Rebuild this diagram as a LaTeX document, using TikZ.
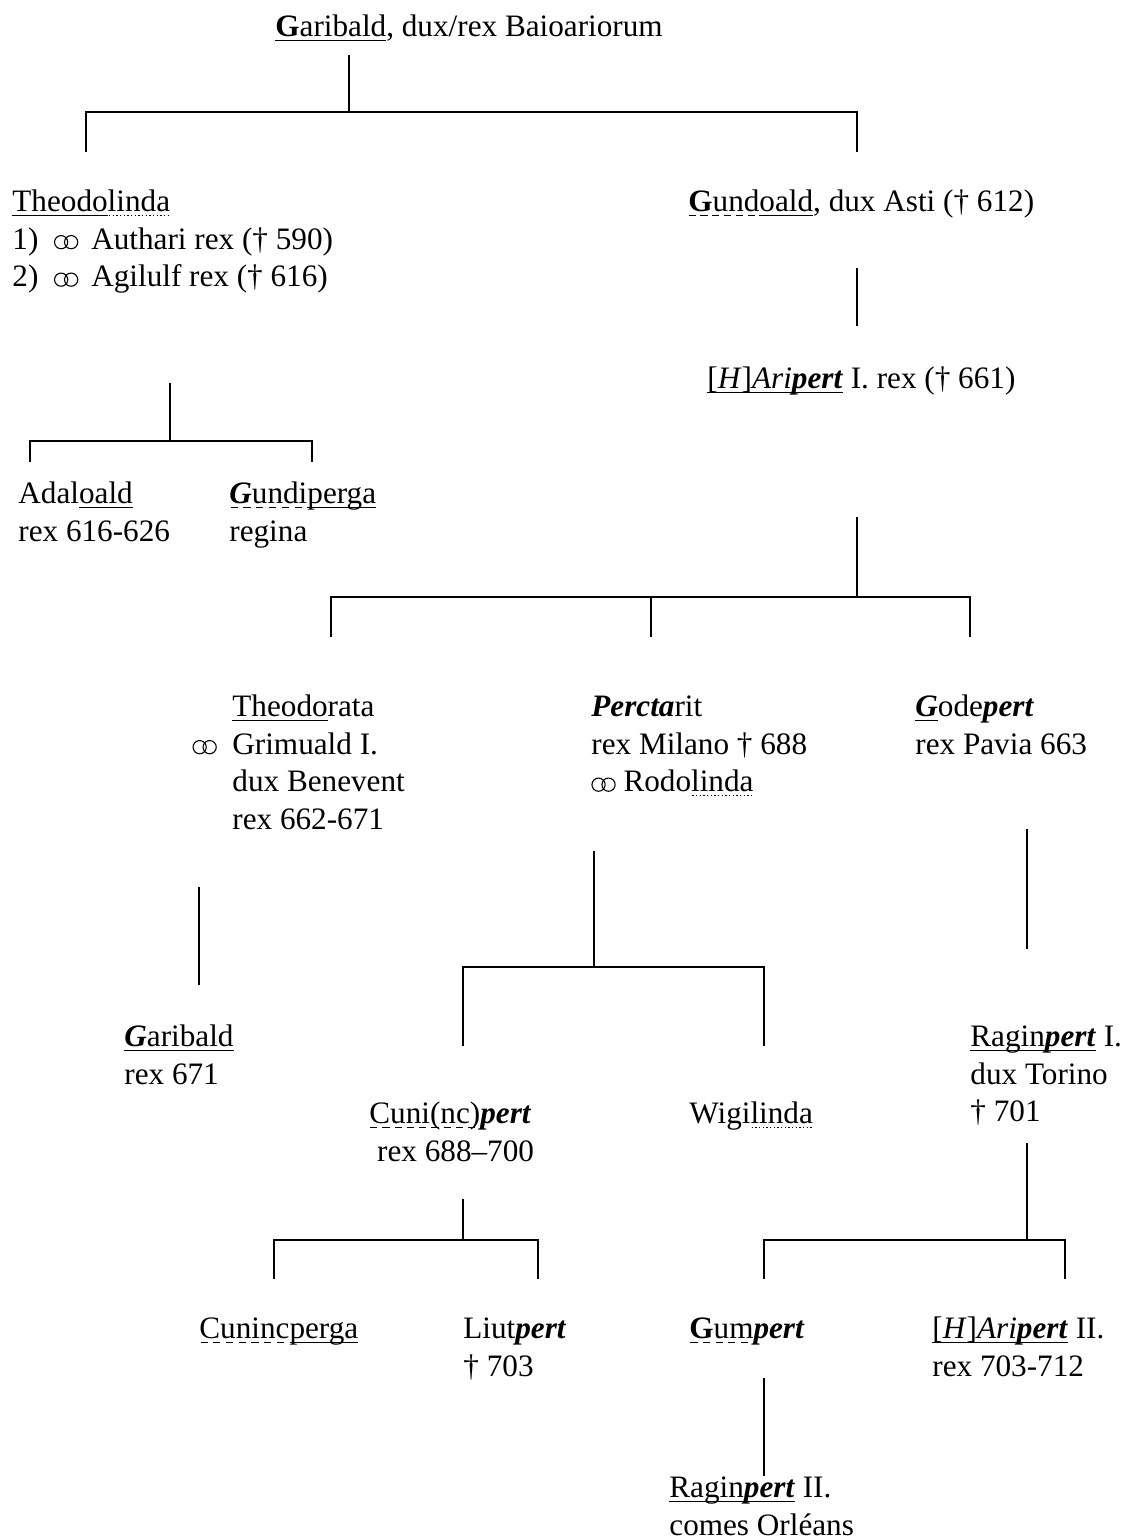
\documentclass[tikz,border=0pt]{standalone}
\usepackage{fontspec}
\setmainfont{Liberation Serif}
\newlength\uldp \setlength\uldp{2.4pt}
\newsavebox\ulb
\newcommand\ulsolid[1]{\sbox\ulb{#1}\rlap{\raisebox{-\uldp}{\rule{\wd\ulb}{0.6pt}}}\usebox\ulb}
\newcommand\uldash[1]{\sbox\ulb{#1}\rlap{\raisebox{-\uldp}{\hbox to\wd\ulb{\xleaders\hbox{\rule{3.6pt}{0.6pt}\hspace{2.2pt}}\hfil}}}\usebox\ulb}
\newcommand\uldot[1]{\sbox\ulb{#1}\rlap{\raisebox{-\uldp}{\hbox to\wd\ulb{\xleaders\hbox{\hspace{0.55pt}\rule{0.7pt}{0.6pt}\hspace{0.55pt}}\hfil}}}\usebox\ulb}
% marriage sign, two rings
\newcommand\mar{\tikz[x=1pt,y=1pt,baseline=-3.5pt,line width=0.55pt]{\draw (0,0) circle (3.3pt); \draw (5,0) circle (3.3pt);}}
\newcommand\bi[1]{\textbf{\textit{#1}}}
\begin{document}
\begin{tikzpicture}[x=0.5pt,y=0.5pt,yscale=-1,
  person/.style={anchor=north west,inner sep=0pt,align=left,font=\fontsize{15.6}{18.75}\selectfont},
  line/.style={line width=0.8pt}]
\useasboundingbox (0,0) rectangle (1130,1539);

% Text Nodes
\node[person] (garibald) at (275,10) {\strut\ulsolid{\textbf{G}aribald}, dux/rex Baioariorum};
\node[person] (theodolinda) at (12,185) {\strut\ulsolid{Theodo}\uldot{linda}\\1)\ \ \mar\ \,Authari rex († 590)\\2)\ \ \mar\ \,Agilulf rex († 616)};
\node[person] (gundoald) at (688,185) {\strut\uldash{\textbf{G}und}\ulsolid{oald}, dux Asti († 612)};
\node[person] (aripert) at (707,362) {\strut\ulsolid{[\textit{H}]\textit{Ari}\bi{pert}} I. rex († 661)};
\node[person] (adaloald) at (18,477) {\strut Adal\ulsolid{oald}\\rex 616-626};
\node[person] (gundiperga) at (229,477) {\strut\uldash{\bi{G}undi}\ulsolid{perga}\\regina};
\node[person] (theodorata) at (232,690) {\strut\ulsolid{Theodo}rata\\\llap{\mar\ \ }Grimuald I.\\dux Benevent\\rex 662-671};
\node[person] (perctarit) at (591,690) {\strut\bi{Percta}rit\\rex Milano † 688\\\mar\ Rodo\uldot{linda}};
\node[person] (godepert) at (915,690) {\strut\ulsolid{\bi{G}}ode\bi{pert}\\rex Pavia 663};
\node[person] (garibaldii) at (124,1020) {\strut\ulsolid{\bi{G}aribald}\\rex 671};
\node[person] (raginpert) at (970,1020) {\strut\ulsolid{Ragin\bi{pert}} I.\\dux Torino\\† 701};
\node[person] (cunincpert) at (369,1097) {\strut\uldash{Cuni(nc)}\bi{pert}\\\ rex 688–700};
\node[person] (wigilinda) at (689,1097) {\strut Wigi\uldot{linda}};
\node[person] (cunincperga) at (199,1312) {\strut\uldash{Cuninc}\ulsolid{perga}};
\node[person] (liutpert) at (463,1312) {\strut Liut\bi{pert}\\† 703};
\node[person] (gumpert) at (689,1312) {\strut\uldash{\textbf{G}um}\bi{pert}};
\node[person] (aripertii) at (932,1312) {\strut\ulsolid{[\textit{H}]\textit{Ari}\bi{pert}} II.\\rex 703-712};
\node[person] (raginpertii) at (669,1471) {\strut\ulsolid{Ragin\bi{pert}} II.\\comes Orléans};

% Garibald
\coordinate (gar-d) at (349,55);
\coordinate (gar-b) at (349,112);
\coordinate (gar-l) at (86,112);
\coordinate (gar-r) at (857,112);
\coordinate (gar-l2) at (86,152);
\coordinate (gar-r2) at (857,152);
\draw[line] (gar-d) -- (gar-b);
\draw[line] (gar-l2) -- (gar-l) -- (gar-r) -- (gar-r2);

% Gundoald
\coordinate (gun-d) at (857,268);
\coordinate (gun-e) at (857,326);
\draw[line] (gun-d) -- (gun-e);

% Theodolinda
\coordinate (the-d) at (170,383);
\coordinate (the-b) at (170,441);
\coordinate (the-l) at (30,441);
\coordinate (the-r) at (312,441);
\coordinate (the-l2) at (30,462);
\coordinate (the-r2) at (312,462);
\draw[line] (the-d) -- (the-b);
\draw[line] (the-l2) -- (the-l) -- (the-r) -- (the-r2);

% Aripert I.
\coordinate (ari-d) at (857,517);
\coordinate (ari-b) at (857,597);
\coordinate (ari-l) at (331,597);
\coordinate (ari-m) at (651,597);
\coordinate (ari-r) at (970,597);
\coordinate (ari-l2) at (331,637);
\coordinate (ari-m2) at (651,637);
\coordinate (ari-r2) at (970,637);
\draw[line] (ari-d) -- (ari-b);
\draw[line] (ari-l2) -- (ari-l) -- (ari-r) -- (ari-r2);
\draw[line] (ari-m) -- (ari-m2);

% Theodorata
\coordinate (tda-d) at (199,887);
\coordinate (tda-e) at (199,985);
\draw[line] (tda-d) -- (tda-e);

% Perctarit
\coordinate (per-d) at (594,851);
\coordinate (per-b) at (594,967);
\coordinate (per-l) at (463,967);
\coordinate (per-r) at (764,967);
\coordinate (per-l2) at (463,1046);
\coordinate (per-r2) at (764,1046);
\draw[line] (per-d) -- (per-b);
\draw[line] (per-l2) -- (per-l) -- (per-r) -- (per-r2);

% Godepert
\coordinate (god-d) at (1027,829);
\coordinate (god-e) at (1027,949);
\draw[line] (god-d) -- (god-e);

% Cuni(nc)pert
\coordinate (cun-d) at (463,1199);
\coordinate (cun-b) at (463,1240);
\coordinate (cun-l) at (274,1240);
\coordinate (cun-r) at (538,1240);
\coordinate (cun-l2) at (274,1279);
\coordinate (cun-r2) at (538,1279);
\draw[line] (cun-d) -- (cun-b);
\draw[line] (cun-l2) -- (cun-l) -- (cun-r) -- (cun-r2);

% Raginpert I.
\coordinate (rag-d) at (1027,1143);
\coordinate (rag-b) at (1027,1240);
\coordinate (rag-l) at (764,1240);
\coordinate (rag-r) at (1065,1240);
\coordinate (rag-l2) at (764,1279);
\coordinate (rag-r2) at (1065,1279);
\draw[line] (rag-d) -- (rag-b);
\draw[line] (rag-l2) -- (rag-l) -- (rag-r) -- (rag-r2);

% Gumpert
\coordinate (gum-d) at (764,1378);
\coordinate (gum-e) at (764,1476);
\draw[line] (gum-d) -- (gum-e);
\end{tikzpicture}
\end{document}
